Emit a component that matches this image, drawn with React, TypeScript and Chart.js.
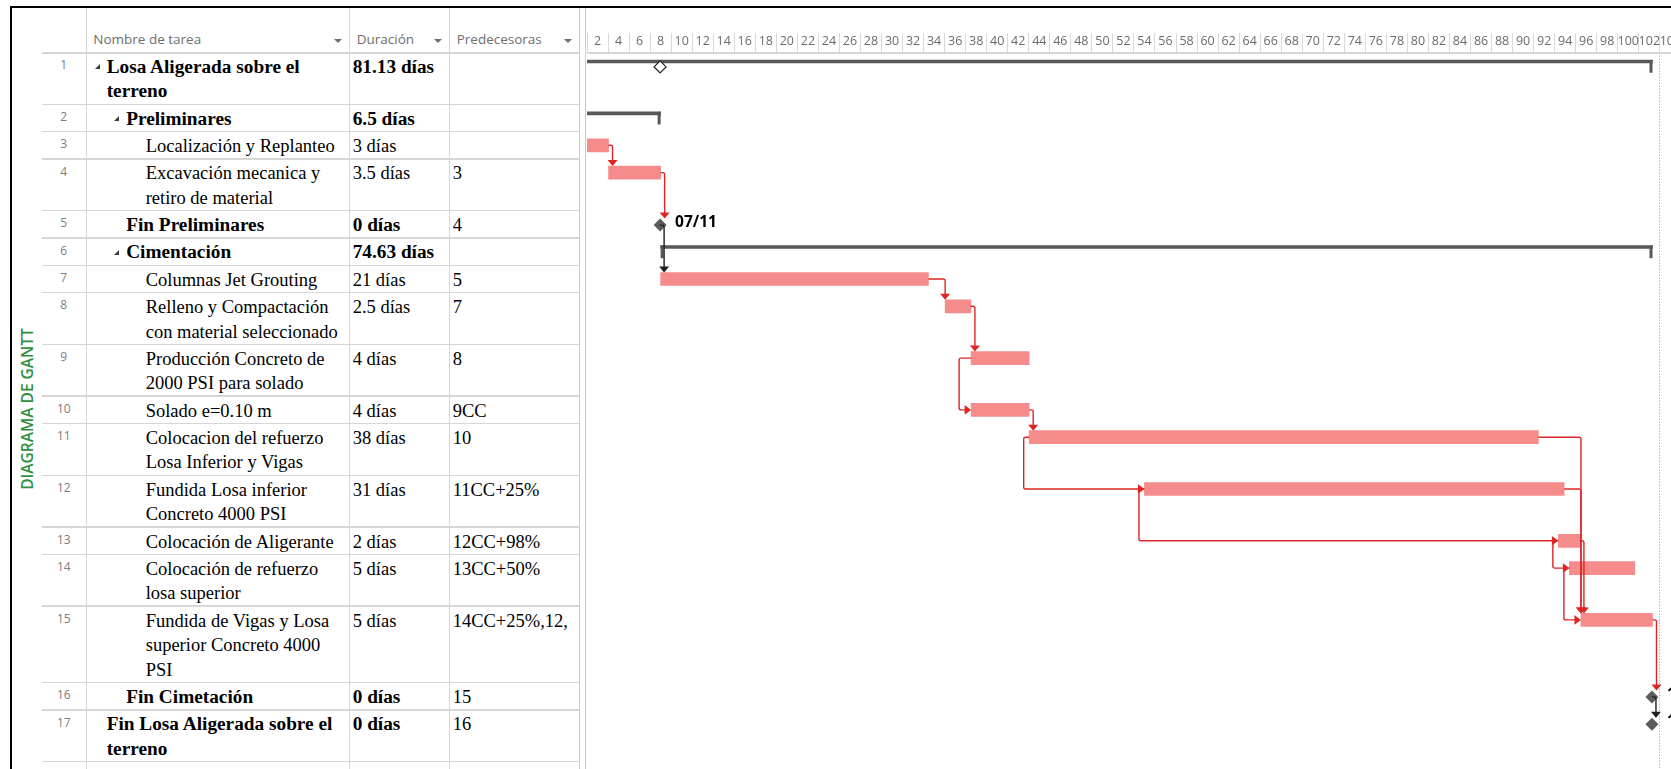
import React, { useEffect, useRef } from "react";
import { Chart, registerables } from "chart.js";

Chart.register(...registerables);

// ---------------- DATA ----------------
const TASK_IDS = [1, 2, 3, 4, 5, 6, 7, 8, 9, 10, 11, 12, 13, 14, 15, 16, 17];
const TASK_NAMES = [
  "Losa Aligerada sobre el\nterreno",
  "Preliminares",
  "Localización y Replanteo",
  "Excavación mecanica y\nretiro de material",
  "Fin Preliminares",
  "Cimentación",
  "Columnas Jet Grouting",
  "Relleno y Compactación\ncon material seleccionado",
  "Producción Concreto de\n2000 PSI para solado",
  "Solado e=0.10 m",
  "Colocacion del refuerzo\nLosa Inferior y Vigas",
  "Fundida Losa inferior\nConcreto 4000 PSI",
  "Colocación de Aligerante",
  "Colocación de refuerzo\nlosa superior",
  "Fundida de Vigas y Losa\nsuperior Concreto 4000\nPSI",
  "Fin Cimetación",
  "Fin Losa Aligerada sobre el\nterreno",
];
const DURATIONS = [
  "81.13 días", "6.5 días", "3 días", "3.5 días", "0 días", "74.63 días", "21 días", "2.5 días",
  "4 días", "4 días", "38 días", "31 días", "2 días", "5 días", "5 días", "0 días", "0 días",
];
const PREDECESSORS = [
  "", "", "", "3", "4", "", "5", "7", "8", "9CC", "10", "11CC+25%", "12CC+98%", "13CC+50%",
  "14CC+25%,12,", "15", "16",
];
const OUTLINE_LEVELS = [0, 1, 2, 2, 1, 1, 2, 2, 2, 2, 2, 2, 2, 2, 2, 1, 0];
const TASK_KINDS = [
  "summary", "summary", "task", "task", "milestone", "summary", "task", "task", "task", "task",
  "task", "task", "task", "task", "task", "milestone", "milestone",
];
// timescale units (same units as the timescale labels 2, 4, 6 ...)
const TASK_START = [0.7, 0.7, 0.7, 3.05, 7.95, 8.0, 8.0, 35.05, 37.52, 37.52, 43.04, 54.0, 93.35, 94.4, 95.5, 102.25, 102.25];
const TASK_FINISH = [102.3, 8.0, 3.05, 8.0, 7.95, 102.3, 33.46, 37.5, 43.04, 43.04, 91.45, 93.9, 95.4, 100.62, 102.3, 102.25, 102.25];

const LINK_FROM = [3, 4, 5, 7, 8, 9, 10, 11, 11, 12, 12, 13, 13, 14, 15, 16];
const LINK_TO = [4, 5, 7, 8, 9, 10, 11, 12, 15, 13, 15, 14, 15, 15, 16, 17];
const LINK_TYPE = ["FS", "FS", "FS", "FS", "FS", "SS", "FS", "SS", "FS", "SS", "FS", "SS", "FS", "SS", "FS", "FS"];

const ROLLUP_ROWS = [1];
const ROLLUP_AT = [7.95];
const MILESTONE_LABELS = ["07/11", "10/02", "10/02"];
const STATUS_DATE = 102.93;
const AXIS_MIN = 1;
const AXIS_MAX = 104.06;
const HEADERS = ["Nombre de tarea", "Duración", "Predecesoras"];
const SIDE_LABEL = "DIAGRAMA DE GANTT";
const EXTRA_ROW_ID = 18;

// ---------------- LAYOUT ----------------
const PAGE_W = 1671;
const PAGE_H = 769;
const HEAD_TOP = 8;
const HEAD_BOTTOM = 52.7;
const HEAD_H = HEAD_BOTTOM - HEAD_TOP;
const COL_NUM_L = 42;
const COL_NAME_L = 85.5;
const COL_DUR_L = 349;
const COL_PRED_L = 449;
const TABLE_R = 579;
const SPLIT_X = 585;
const GANTT_L = 587;
const LINE_H = 24.5;
const ROW_PAD = 2.8;
const BAR_MID = 13.5;
const BAR_H = 13;
const MS_MID = 14.2;
const MS_R = 6.5;
const SUM_MID = 8.8;
const SUM_H = 3;
const BRACKET_H = 12.7;

const SANS = "'Open Sans', 'Noto Sans', 'DejaVu Sans', sans-serif";
const SERIF = "'Liberation Serif', 'Times New Roman', serif";
const BAR_COLOR = "#F68B8B";
const SUMMARY_COLOR = "#595959";
const LINK_RED = "#DE2424";
const LINK_BLACK = "#1e1e1e";
const GRID_COLOR = "#d6d6d6";

const lineCounts = TASK_NAMES.map((n) => n.split("\n").length);
const rowHeights = [...lineCounts.map((c) => c * LINE_H + ROW_PAD), LINE_H + ROW_PAD];
const rowTops: number[] = [];
let accTop = 0;
for (const h of rowHeights) {
  rowTops.push(accTop);
  accTop += h;
}
const ROWS_TOTAL = accTop;
const CANVAS_W = PAGE_W - GANTT_L;
const CANVAS_H = Math.round(HEAD_H + ROWS_TOTAL);
const Y_MAX = CANVAS_H - HEAD_H;

const idx = (id: number) => TASK_IDS.indexOf(id);

// ---------------- CHART PLUGIN ----------------
function roundedPath(ctx: CanvasRenderingContext2D, pts: number[][], r = 2) {
  ctx.beginPath();
  ctx.moveTo(pts[0][0], pts[0][1]);
  for (let i = 1; i < pts.length - 1; i++) {
    ctx.arcTo(pts[i][0], pts[i][1], pts[i + 1][0], pts[i + 1][1], r);
  }
  const last = pts[pts.length - 1];
  ctx.lineTo(last[0], last[1]);
  ctx.stroke();
}
function arrowDown(ctx: CanvasRenderingContext2D, x: number, yTip: number) {
  ctx.beginPath();
  ctx.moveTo(x - 5, yTip - 6);
  ctx.lineTo(x + 5, yTip - 6);
  ctx.lineTo(x, yTip);
  ctx.closePath();
  ctx.fill();
}
function arrowRight(ctx: CanvasRenderingContext2D, xTip: number, y: number) {
  ctx.beginPath();
  ctx.moveTo(xTip - 6.5, y - 4.8);
  ctx.lineTo(xTip - 6.5, y + 4.8);
  ctx.lineTo(xTip, y);
  ctx.closePath();
  ctx.fill();
}

const ganttPlugin = {
  id: "ganttDecor",
  beforeDatasetsDraw(chart: any) {
    const { ctx, chartArea, scales } = chart;
    const sx = Math.round(scales.x.getPixelForValue(STATUS_DATE)) + 0.5;
    ctx.save();
    ctx.strokeStyle = "#8c8c8c";
    ctx.lineWidth = 1;
    ctx.setLineDash([1, 2]);
    ctx.beginPath();
    ctx.moveTo(sx, chartArea.top + 3);
    ctx.lineTo(sx, chartArea.bottom);
    ctx.stroke();
    ctx.restore();
  },
  afterDatasetsDraw(chart: any) {
    const { ctx, chartArea, scales } = chart;
    const px = (v: number) => scales.x.getPixelForValue(v);
    const py = (v: number) => scales.y.getPixelForValue(v);
    ctx.save();
    ctx.beginPath();
    ctx.rect(chartArea.left, chartArea.top, chartArea.right - chartArea.left, chartArea.bottom - chartArea.top);
    ctx.clip();

    // summary brackets
    ctx.fillStyle = SUMMARY_COLOR;
    TASK_KINDS.forEach((k, i) => {
      if (k !== "summary") return;
      const top = py(rowTops[i]) + SUM_MID - SUM_H / 2;
      ctx.fillRect(px(TASK_START[i]), top, 3, BRACKET_H);
      ctx.fillRect(px(TASK_FINISH[i]) - 3, top, 3, BRACKET_H);
    });

    // links
    const centerY = (i: number) =>
      py(rowTops[i]) + (TASK_KINDS[i] === "milestone" ? MS_MID : BAR_MID);
    const targetTop = (i: number) =>
      TASK_KINDS[i] === "milestone" ? py(rowTops[i]) + MS_MID - MS_R : py(rowTops[i]) + BAR_MID - BAR_H / 2;
    ctx.lineWidth = 1.4;
    LINK_FROM.forEach((fromId, k) => {
      const a = idx(fromId);
      const b = idx(LINK_TO[k]);
      const color = TASK_KINDS[a] === "milestone" ? LINK_BLACK : LINK_RED;
      ctx.strokeStyle = color;
      ctx.fillStyle = color;
      if (LINK_TYPE[k] === "FS") {
        const x0 = px(TASK_FINISH[a]);
        const y0 = centerY(a);
        const X = Math.max(x0 + 4, px(TASK_START[b]));
        const yT = targetTop(b);
        roundedPath(ctx, [[x0, y0], [X, y0], [X, yT - 5]]);
        arrowDown(ctx, X, yT);
      } else {
        const xa = px(TASK_START[a]);
        const ya = centerY(a);
        const xb = px(TASK_START[b]);
        const yb = centerY(b);
        const X = Math.min(xa - 5.5, xb - 12);
        roundedPath(ctx, [[xa, ya], [X, ya], [X, yb], [xb - 6, yb]]);
        arrowRight(ctx, xb, yb);
      }
    });
    ctx.restore();

    // milestone date labels
    ctx.save();
    ctx.fillStyle = "#000";
    ctx.font = `bold 15.5px ${SANS}`;
    ctx.textBaseline = "middle";
    let m = 0;
    TASK_KINDS.forEach((k, i) => {
      if (k !== "milestone") return;
      const label = MILESTONE_LABELS[m++];
      ctx.fillText(label, px(TASK_START[i]) + 15, py(rowTops[i]) + MS_MID - 2.5);
    });
    ctx.restore();
  },
};

// ---------------- COMPONENT ----------------
export default function App() {
  const canvasRef = useRef<HTMLCanvasElement | null>(null);

  useEffect(() => {
    const canvas = canvasRef.current;
    if (!canvas) return;
    const taskBars: any[] = [];
    const summaryBars: any[] = [];
    const milestones: any[] = [];
    TASK_KINDS.forEach((k, i) => {
      if (k === "task") taskBars.push({ x: [TASK_START[i], TASK_FINISH[i]], y: rowTops[i] + BAR_MID });
      if (k === "summary") summaryBars.push({ x: [TASK_START[i], TASK_FINISH[i]], y: rowTops[i] + SUM_MID });
      if (k === "milestone") milestones.push({ x: TASK_START[i], y: rowTops[i] + MS_MID });
    });
    const rollups = ROLLUP_ROWS.map((r, j) => ({ x: ROLLUP_AT[j], y: rowTops[idx(r)] + MS_MID }));

    const chart = new Chart(canvas, {
      type: "bar",
      data: {
        datasets: [
          {
            type: "bar",
            label: "Tareas",
            data: taskBars,
            indexAxis: "y",
            grouped: false,
            barThickness: BAR_H,
            backgroundColor: BAR_COLOR,
            borderWidth: 0,
            order: 3,
          } as any,
          {
            type: "bar",
            label: "Resumen",
            data: summaryBars,
            indexAxis: "y",
            grouped: false,
            barThickness: SUM_H,
            backgroundColor: SUMMARY_COLOR,
            borderWidth: 0,
            order: 2,
          } as any,
          {
            type: "scatter",
            label: "Hitos",
            data: milestones,
            pointStyle: "rectRot",
            pointRadius: MS_R,
            backgroundColor: "#5c5c5c",
            borderWidth: 0,
            order: 1,
          } as any,
          {
            type: "scatter",
            label: "Hito resumido",
            data: rollups,
            pointStyle: "rectRot",
            pointRadius: 6,
            backgroundColor: "#ffffff",
            borderColor: "#222222",
            borderWidth: 1.2,
            order: 0,
          } as any,
        ],
      },
      options: {
        animation: false,
        responsive: false,
        events: [],
        layout: { padding: 0, autoPadding: false },
        plugins: { legend: { display: false }, tooltip: { enabled: false } },
        scales: {
          x: {
            type: "linear",
            position: "top",
            min: AXIS_MIN,
            max: AXIS_MAX,
            offset: false,
            stacked: false,
            afterFit: (scale: any) => {
              scale.height = HEAD_H;
              scale.paddingLeft = 0;
              scale.paddingRight = 0;
            },
            grid: {
              offset: false,
              drawOnChartArea: false,
              drawTicks: true,
              tickLength: 19.5,
              lineWidth: 1,
              color: (c: any) =>
                c.tick && Math.abs(Math.abs(c.tick.value % 2) - 1) < 1e-6 ? "#d9d9d9" : "rgba(0,0,0,0)",
            },
            border: { display: true, color: GRID_COLOR, width: 2 },
            ticks: {
              stepSize: 1,
              autoSkip: false,
              includeBounds: false,
              maxRotation: 0,
              minRotation: 0,
              maxTicksLimit: 500,
              padding: -15.8,
              color: "#6b6b6b",
              font: { family: SANS, size: 12.5 },
              callback: (v: any) => (Number.isInteger(v) && v % 2 === 0 ? String(v) : ""),
            },
          },
          y: {
            type: "linear",
            reverse: true,
            min: 0,
            max: Y_MAX,
            offset: false,
            grid: { offset: false },
            display: false,
          },
        },
      } as any,
      plugins: [ganttPlugin],
    });
    return () => chart.destroy();
  }, []);

  const els: any[] = [];
  // header texts
  const headerLefts = [COL_NAME_L + 7.8, COL_DUR_L + 7.7, COL_PRED_L + 7.7];
  const arrowCenters = [338.3, 438.3, 568.3];
  HEADERS.forEach((h, i) => {
    els.push(
      <div key={"h" + i} style={{ position: "absolute", left: headerLefts[i], top: 30, lineHeight: "18px", fontFamily: SANS, fontSize: 13.5, color: "#6e6e6e", whiteSpace: "pre" }}>
        {h}
      </div>
    );
    els.push(
      <div key={"ha" + i} style={{ position: "absolute", left: arrowCenters[i] - 4, top: 39, width: 0, height: 0, borderLeft: "4px solid transparent", borderRight: "4px solid transparent", borderTop: "4px solid #6e6e6e" }} />
    );
  });
  // header bottom line
  els.push(<div key="hb" style={{ position: "absolute", left: COL_NUM_L, top: HEAD_BOTTOM - 1, width: TABLE_R - COL_NUM_L, height: 2, background: GRID_COLOR }} />);

  // rows
  const allIds = [...TASK_IDS, EXTRA_ROW_ID];
  allIds.forEach((id, i) => {
    const top = HEAD_BOTTOM + rowTops[i];
    const h = rowHeights[i];
    els.push(<div key={"rl" + i} style={{ position: "absolute", left: COL_NUM_L, top: top + h - 1, width: TABLE_R - COL_NUM_L, height: 1.5, background: GRID_COLOR }} />);
    els.push(
      <div key={"n" + i} style={{ position: "absolute", left: COL_NUM_L, width: COL_NAME_L - COL_NUM_L, top: top + 4.5, lineHeight: "16px", textAlign: "center", fontFamily: SANS, fontSize: 12, color: "#7d7d7d" }}>
        {id}
      </div>
    );
    if (i >= TASK_IDS.length) return;
    const kind = TASK_KINDS[i];
    const bold = kind !== "task";
    const textLeft = COL_NAME_L + 21.2 + 19.5 * OUTLINE_LEVELS[i];
    const txtStyle: any = {
      position: "absolute",
      top: top + 2.2,
      lineHeight: LINE_H + "px",
      fontFamily: SERIF,
      fontSize: bold ? 19.3 : 18.5,
      fontWeight: bold ? "bold" : "normal",
      color: "#000",
      whiteSpace: "pre",
    };
    if (kind === "summary") {
      els.push(
        <div key={"t" + i} style={{ position: "absolute", left: textLeft - 12.2, top: top + 11.5, width: 0, height: 0, borderLeft: "5px solid transparent", borderBottom: "5px solid #3a3a3a" }} />
      );
    }
    els.push(<div key={"nm" + i} style={{ ...txtStyle, left: textLeft }}>{TASK_NAMES[i]}</div>);
    els.push(<div key={"du" + i} style={{ ...txtStyle, left: COL_DUR_L + 3.7 }}>{DURATIONS[i]}</div>);
    els.push(
      <div key={"pr" + i} style={{ ...txtStyle, fontSize: 18.5, fontWeight: "normal", left: COL_PRED_L + 3.7, width: TABLE_R - COL_PRED_L - 4, overflow: "hidden" }}>
        {PREDECESSORS[i]}
      </div>
    );
  });

  // column lines
  [COL_NAME_L, COL_DUR_L, COL_PRED_L, TABLE_R, SPLIT_X].forEach((x, i) => {
    els.push(<div key={"cl" + i} style={{ position: "absolute", left: x, top: HEAD_TOP, width: 1, height: PAGE_H - HEAD_TOP, background: i >= 3 ? "#c9c9c9" : GRID_COLOR }} />);
  });

  return (
    <div style={{ position: "fixed", left: 0, top: 0, width: PAGE_W, height: PAGE_H, overflow: "hidden", background: "#fff" }}>
      {els}
      <canvas
        ref={canvasRef}
        width={CANVAS_W}
        height={CANVAS_H}
        style={{ position: "absolute", left: GANTT_L, top: HEAD_TOP, width: CANVAS_W, height: CANVAS_H }}
      />
      {/* black frame */}
      <div style={{ position: "absolute", left: 10, top: 6, width: PAGE_W - 10, height: 2, background: "#000" }} />
      <div style={{ position: "absolute", left: 10, top: 6, width: 2, height: PAGE_H - 6, background: "#000" }} />
      {/* view label */}
      <div
        style={{
          position: "absolute",
          left: 26.6,
          top: 408.5,
          transform: "translate(-50%, -50%) rotate(-90deg)",
          whiteSpace: "nowrap",
          fontFamily: SANS,
          fontSize: 15.5,
          fontWeight: 600,
          color: "#2f8f3f",
          lineHeight: "20px",
        }}
      >
        {SIDE_LABEL}
      </div>
    </div>
  );
}
